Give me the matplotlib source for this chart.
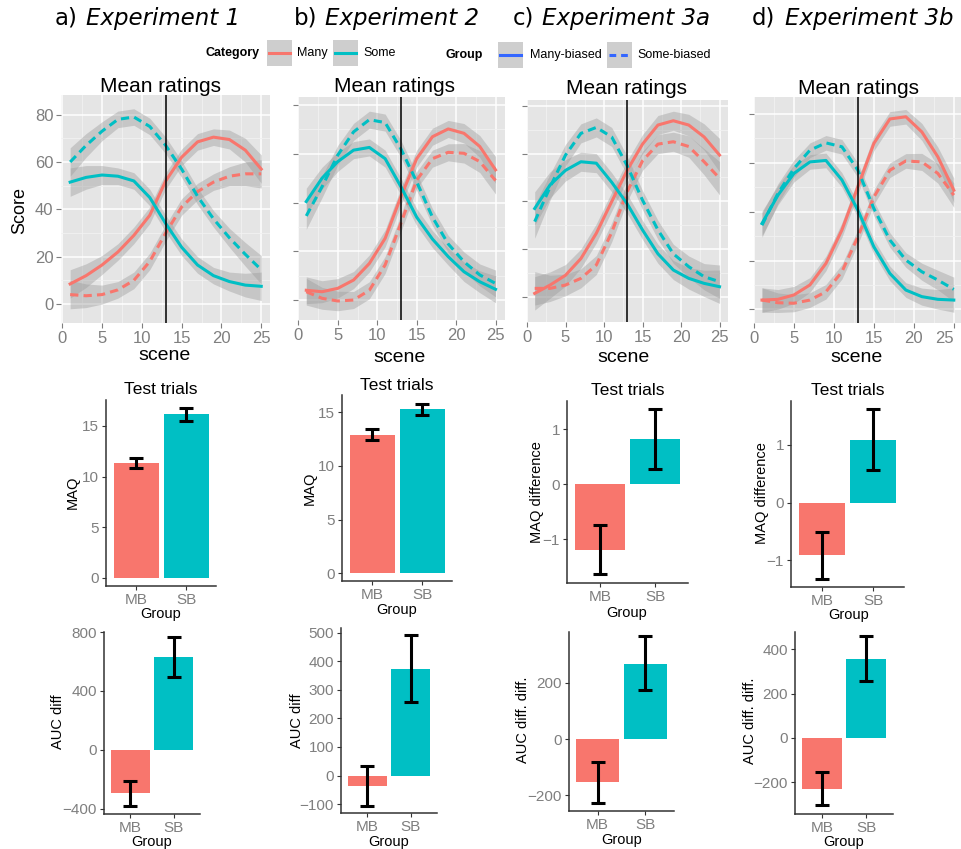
import matplotlib.pyplot as plt
import matplotlib.lines as mlines
from matplotlib.patches import Rectangle
import numpy as np

plt.rcParams['font.family'] = ['Liberation Sans', 'DejaVu Sans']

W, H = 961, 849
RED = '#F8766D'
TEAL = '#00BFC4'
GREY_TXT = '#7f7f7f'

# ---- mean ratings curves (smoothed fits) ----
scenes = [1, 3, 5, 7, 9, 11, 13, 15, 17, 19, 21, 23, 25]

exp1_many_mb = [8.5, 12, 16.5, 22, 29, 37.5, 52, 62, 68.5, 70.5, 69.5, 65, 57]
exp1_many_sb = [4, 3.5, 4, 6, 10, 18, 30, 41, 47.5, 51.5, 54, 55, 55]
exp1_some_mb = [51.5, 53.5, 54.5, 54, 52, 45, 34, 24, 16.5, 12, 9.5, 8, 7.5]
exp1_some_sb = [60, 67, 73, 78, 79, 75, 67, 57, 45.5, 36, 28, 21, 14.5]
exp1_se = [6, 5, 4, 3.5, 3.5, 3.5, 3.5, 3.5, 3.5, 3.5, 4, 5, 6]

exp2_many_mb = [4, 3.4, 4.8, 8.2, 15, 25.3, 42.4, 58, 67, 70.2, 68.4, 63, 53.4]
exp2_many_sb = [3.4, 0.7, -0.4, 0, 4, 14.4, 31.5, 49.2, 58, 60.6, 60.2, 56.8, 49]
exp2_some_mb = [40.4, 50, 56.8, 61.5, 62.6, 58, 46.5, 34, 25, 17.8, 11.6, 7.5, 4.4]
exp2_some_sb = [34.5, 46.5, 59.5, 69, 74, 72.8, 62, 48.5, 34, 23, 15.7, 10.3, 6.8]
exp2_se = [5.5, 4.5, 4, 3.5, 3.5, 3.5, 3.5, 3.5, 3.5, 3.5, 4, 4.5, 5.5]

exp3a_many_mb = [1.4, 4.9, 9, 16, 26.6, 39.9, 53, 64, 72, 73.8, 72, 67, 59.4]
exp3a_many_sb = [3.5, 3.5, 4.9, 7.7, 13.3, 27, 44, 57, 64, 65, 63, 56.6, 49.7]
exp3a_some_mb = [37, 46.9, 53, 56.6, 56, 48, 39, 28, 18, 11.2, 7.7, 5.6, 4.2]
exp3a_some_sb = [31.5, 46, 59.4, 68.5, 71, 67, 55, 40.5, 28, 18, 12.6, 8.4, 6.3]
exp3a_se = [7, 5.5, 4.5, 4, 4, 4, 4, 4, 4, 4, 4.5, 5.5, 7]

exp3b_many_mb = [3.8, 4.1, 5.9, 10, 18.8, 32.5, 50.2, 68, 78, 78.9, 72.7, 62.5, 48.8]
exp3b_many_sb = [3.8, 2.7, 2.5, 3.8, 7.2, 15.4, 29.7, 46, 57, 60.8, 60.4, 55.7, 46.8]
exp3b_some_mb = [35.2, 46.8, 55.7, 60.4, 61, 53, 40.6, 25.6, 14.7, 7.9, 5.2, 4.1, 3.8]
exp3b_some_sb = [34.5, 47.5, 57.7, 65.2, 68.2, 66.6, 57, 41.3, 28.4, 20.2, 15.4, 12, 8.2]
exp3b_se = [5, 4, 3.5, 3, 3, 3, 3, 3, 3, 3, 3.5, 4, 5]

# ---- test trial bars: MB, SB ----
groups = ['MB', 'SB']
maq_exp1 = [11.35, 16.15]
maq_exp1_lo = [10.86, 15.5]
maq_exp1_hi = [11.88, 16.8]
maq_exp2 = [12.9, 15.3]
maq_exp2_lo = [12.4, 14.75]
maq_exp2_hi = [13.4, 15.8]
maq_exp3a = [-1.2, 0.82]
maq_exp3a_lo = [-1.64, 0.28]
maq_exp3a_hi = [-0.74, 1.36]
maq_exp3b = [-0.9, 1.09]
maq_exp3b_lo = [-1.32, 0.57]
maq_exp3b_hi = [-0.51, 1.63]

auc_exp1 = [-294, 629]
auc_exp1_lo = [-377, 497]
auc_exp1_hi = [-213, 764]
auc_exp2 = [-36, 372]
auc_exp2_lo = [-105, 257]
auc_exp2_hi = [34, 490]
auc_exp3a = [-155, 269]
auc_exp3a_lo = [-227, 174]
auc_exp3a_hi = [-83, 368]
auc_exp3b = [-229, 356]
auc_exp3b_lo = [-304, 257]
auc_exp3b_hi = [-155, 462]

fig = plt.figure(figsize=(W / 100, H / 100), dpi=100)


def px_box(l, t, r, b):
    return [l / W, 1 - b / H, (r - l) / W, (b - t) / H]


def ftext(x, y, s, **kw):
    ha = kw.pop('ha', 'center')
    va = kw.pop('va', 'center')
    fig.text(x / W, 1 - y / H, s, ha=ha, va=va, **kw)


# panel headings
heads = [(55, 86, 'a)', 'Experiment 1'), (294, 325, 'b)', 'Experiment 2'),
         (513, 542, 'c)', 'Experiment 3a'), (752, 785, 'd)', 'Experiment 3b')]
for xa, xe, lab, name in heads:
    ftext(xa, 18, lab, ha='left', fontsize=16.5, family='DejaVu Sans')
    ftext(xe, 19, name, ha='left', fontsize=16.5, family='DejaVu Sans', style='italic')

# legend
def key(l, t, color, dashed=False):
    fig.add_artist(Rectangle((l / W, 1 - (t + 26) / H), 25 / W, 26 / H,
                             transform=fig.transFigure, color='#CECECE', lw=0))
    ln = mlines.Line2D([(l + 2) / W, (l + 23) / W], [1 - (t + 13) / H] * 2,
                       transform=fig.transFigure, color=color, lw=2.2)
    if dashed:
        ln.set_dashes((2.2, 1.6))
    fig.add_artist(ln)

ftext(205, 53, 'Category', ha='left', fontsize=9, weight='bold')
key(267, 40, RED)
ftext(297, 53, 'Many', ha='left', fontsize=9)
key(333, 40, TEAL)
ftext(363, 53, 'Some', ha='left', fontsize=9)
ftext(446, 55, 'Group', ha='left', fontsize=9, weight='bold')
key(498, 42, '#3366FF')
ftext(530, 55, 'Many-biased', ha='left', fontsize=9)
key(607, 42, '#3366FF', dashed=True)
ftext(637, 55, 'Some-biased', ha='left', fontsize=9)

# ---- Mean ratings panels ----
line_panels = [
    ((61, 95, 270, 323), (-0.15, 26.1), (-8, 88.3), True,
     (exp1_many_mb, exp1_many_sb, exp1_some_mb, exp1_some_sb), exp1_se, 161, 86, 165, 355),
    ((298, 97, 505, 320), (-0.05, 26.2), (-8.2, 83.3), False,
     (exp2_many_mb, exp2_many_sb, exp2_some_mb, exp2_some_sb), exp2_se, 394, 86, 400, 357),
    ((527, 100, 728, 322), (0.7, 26.1), (-10.6, 82.5), False,
     (exp3a_many_mb, exp3a_many_sb, exp3a_some_mb, exp3a_some_sb), exp3a_se, 626, 88, 624, 358),
    ((754, 97, 961, 323), (0, 25.9), (-5.6, 87), False,
     (exp3b_many_mb, exp3b_many_sb, exp3b_some_mb, exp3b_some_sb), exp3b_se, 859, 88, 857, 358),
]

for i, (box, xl, yl, show_y, curves, se, tx, ty, sx, sy) in enumerate(line_panels):
    ax = fig.add_axes(px_box(*box))
    ax.set_facecolor('#E5E5E5')
    ax.set_xlim(*xl)
    ax.set_ylim(*yl)
    ax.set_xticks([0, 5, 10, 15, 20, 25])
    ax.set_xticks([2.5, 7.5, 12.5, 17.5, 22.5], minor=True)
    ax.set_yticks([0, 20, 40, 60, 80])
    ax.set_yticks([10, 30, 50, 70], minor=True)
    ax.grid(which='major', color='white', lw=1.1)
    ax.grid(which='minor', color='#F2F2F2', lw=0.6)
    ax.set_axisbelow(True)
    for sp in ax.spines.values():
        sp.set_visible(False)
    ax.tick_params(which='major', length=3.5, width=0.8, color=GREY_TXT,
                   labelcolor=GREY_TXT, labelsize=12, pad=2)
    ax.tick_params(which='minor', length=0)
    if not show_y:
        ax.set_yticklabels([])
    if i == 3:
        # right-most label sits at the figure edge
        ax.get_xticklabels()[-1].set_ha('right')
    s = np.array(se)
    styles = [(RED, False), (RED, True), (TEAL, False), (TEAL, True)]
    for vals, (col, dashed) in zip(curves, styles):
        v = np.array(vals)
        ax.fill_between(scenes, v - s, v + s, color='#999999', alpha=0.4, lw=0)
    for vals, (col, dashed) in zip(curves, styles):
        ln, = ax.plot(scenes, vals, color=col, lw=2.2, solid_joinstyle='round')
        if dashed:
            ln.set_dashes((2.7, 1.7))
    ax.axvline(13, color='black', lw=1.1)
    ftext(tx, ty, 'Mean ratings', fontsize=15)
    ftext(sx, sy, 'scene', fontsize=14)

ftext(20, 210, 'Score', fontsize=13, rotation=90)

# ---- bar panels ----
bar_panels = [
    ((106, 400, 216, 586), (-0.82, 17.57), [0, 5, 10, 15], maq_exp1, maq_exp1_lo, maq_exp1_hi,
     'MAQ', 73, 492, (161, 390), (161, 614)),
    ((342, 395, 452, 581), (-0.72, 16.6), [0, 5, 10, 15], maq_exp2, maq_exp2_lo, maq_exp2_hi,
     'MAQ', 310, 488, (397, 385), (397, 610)),
    ((567, 401, 688, 583), (-1.8, 1.51), [-1, 0, 1], maq_exp3a, maq_exp3a_lo, maq_exp3a_hi,
     'MAQ difference', 537, 492, (628, 391), (627, 613)),
    ((791, 401, 904, 587), (-1.46, 1.76), [-1, 0, 1], maq_exp3b, maq_exp3b_lo, maq_exp3b_hi,
     'MAQ difference', 762, 493, (848, 391), (849, 615)),
    ((104, 632, 200, 814), (-434, 798), [-400, 0, 400, 800], auc_exp1, auc_exp1_lo, auc_exp1_hi,
     'AUC diff', 58, 722, None, (152, 842)),
    ((341, 628, 437, 813), (-131, 516), [-100, 0, 100, 200, 300, 400, 500], auc_exp2, auc_exp2_lo,
     auc_exp2_hi, 'AUC diff', 297, 721, None, (389, 842)),
    ((569, 632, 674, 811), (-257, 382), [-200, 0, 200], auc_exp3a, auc_exp3a_lo, auc_exp3a_hi,
     'AUC diff. diff.', 523, 720, None, (622, 840)),
    ((795, 632, 893, 814), (-343, 478), [-200, 0, 200, 400], auc_exp3b, auc_exp3b_lo, auc_exp3b_hi,
     'AUC diff. diff.', 750, 721, None, (844, 842)),
]

for box, yl, yt, vals, lo, hi, ylab, lx, ly, title, grp in bar_panels:
    ax = fig.add_axes(px_box(*box))
    x = np.array([1, 2])
    v = np.array(vals)
    ax.bar(x, v, width=0.9, color=[RED, TEAL], zorder=2)
    ax.errorbar(x, v, yerr=[v - np.array(lo), np.array(hi) - v], fmt='none',
                ecolor='black', elinewidth=2.2, capsize=4.8, capthick=2.2, zorder=3)
    ax.set_xlim(0.4, 2.6)
    ax.set_ylim(*yl)
    ax.set_yticks(yt)
    ax.set_xticks(x)
    ax.set_xticklabels(groups)
    for k in ['top', 'right']:
        ax.spines[k].set_visible(False)
    for k in ['left', 'bottom']:
        ax.spines[k].set_color('#333333')
        ax.spines[k].set_linewidth(1.1)
    ax.tick_params(length=3, width=0.8, color='#333333', labelcolor=GREY_TXT,
                   labelsize=11, pad=2)
    ftext(lx, ly, ylab, fontsize=10.5, rotation=90)
    if title:
        ftext(title[0], title[1], 'Test trials', fontsize=12.5)
    ftext(grp[0], grp[1], 'Group', fontsize=10.5)

fig.savefig('out.png', dpi=100, facecolor='white')
